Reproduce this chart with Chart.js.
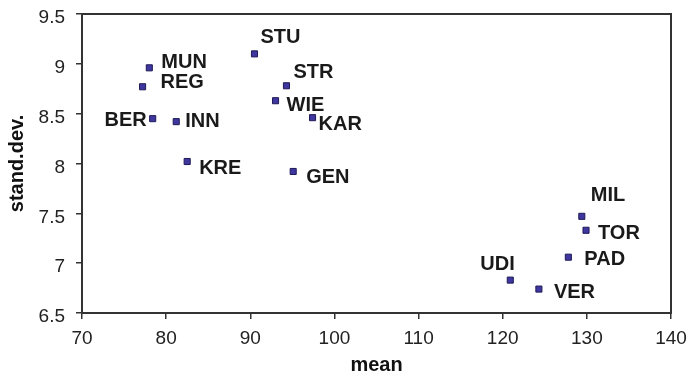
<!DOCTYPE html>
<html>
<head>
<meta charset="utf-8">
<script src="https://cdn.jsdelivr.net/npm/chart.js@4/dist/chart.umd.min.js"></script>
<style>
  body { margin: 0; background: #fff; }
  #wrap { width: 688px; height: 378px; }
</style>
</head>
<body>
<div id="wrap"><canvas id="scatter-chart" width="688" height="378"></canvas></div>
<script>
// city codes and their (mean, stand.dev.) values
const cities = ["MUN", "REG", "BER", "INN", "KRE", "STU", "STR", "WIE", "KAR", "GEN", "MIL", "TOR", "PAD", "UDI", "VER"];
const meanValues = [78.0, 77.2, 78.4, 81.2, 82.5, 90.5, 94.3, 93.0, 97.4, 95.1, 129.4, 129.9, 127.8, 120.9, 124.3];
const sdValues = [8.96, 8.77, 8.45, 8.42, 8.02, 9.10, 8.78, 8.63, 8.46, 7.92, 7.47, 7.33, 7.06, 6.83, 6.74];

const xTicks = [70, 80, 90, 100, 110, 120, 130, 140];
const yTicks = [6.5, 7, 7.5, 8, 8.5, 9, 9.5];

// label placement next to each point (pixels, left edge / cap middle)
const labelOffsets = [
  [12, -7], [18, -6], [-6, 0, "right"], [9, -2], [12, 5], [6, -18], [7, -15], [11, 3],
  [6, 5], [13, 5], [9, -22], [12, 2], [16, 1], [-30, -17], [15, 2],
];

const FONT = "Arial, 'Liberation Sans', sans-serif";

const points = meanValues.map((m, i) => ({ x: m, y: sdValues[i] }));

// draws the box around the plot and the city names
const boxAndLabels = {
  id: "boxAndLabels",
  afterDraw(chart) {
    const { ctx, chartArea } = chart;
    ctx.save();
    ctx.strokeStyle = "#333";
    ctx.lineWidth = 2;
    ctx.strokeRect(chartArea.left, chartArea.top, chartArea.right - chartArea.left, chartArea.bottom - chartArea.top);

    ctx.font = "bold 20px " + FONT;
    ctx.fillStyle = "#1a1a1a";
    ctx.textBaseline = "alphabetic";
    const meta = chart.getDatasetMeta(0);
    meta.data.forEach((pt, i) => {
      const off = labelOffsets[i];
      ctx.textAlign = off[2] || "left";
      ctx.fillText(cities[i], pt.x + off[0], pt.y + off[1] + 7);
    });
    ctx.restore();
  },
};

const ctx = document.getElementById("scatter-chart");

new Chart(ctx, {
  type: "scatter",
  data: {
    datasets: [
      {
        label: "cities",
        data: points,
        pointStyle: "rect",
        radius: 4.3,
        hoverRadius: 4.3,
        backgroundColor: "#3f36a0",
        borderColor: "#1e1a55",
        borderWidth: 1,
      },
    ],
  },
  options: {
    responsive: false,
    animation: false,
    layout: { padding: { top: 14, right: 17, left: 0, bottom: 0 } },
    plugins: {
      legend: { display: false },
      tooltip: { enabled: false },
    },
    scales: {
      x: {
        type: "linear",
        min: 70,
        max: 140,
        afterBuildTicks: (scale) => {
          scale.ticks = xTicks.map((v) => ({ value: v }));
        },
        afterFit: (scale) => {
          scale.height = 65;
          scale.paddingLeft = 0;
          scale.paddingRight = 0;
        },
        ticks: {
          padding: 8,
          color: "#222",
          font: { family: FONT, size: 19 },
          callback: (v) => String(v),
        },
        grid: { display: true, drawOnChartArea: false, tickLength: 6, color: "#333", lineWidth: 1.5 },
        border: { display: false },
        title: {
          display: true,
          text: "mean",
          color: "#111",
          font: { family: FONT, size: 20, weight: "bold" },
          padding: { top: 0, bottom: 1 },
        },
      },
      y: {
        type: "linear",
        min: 6.5,
        max: 9.5,
        afterBuildTicks: (scale) => {
          scale.ticks = yTicks.map((v) => ({ value: v }));
        },
        afterFit: (scale) => {
          scale.width = 82;
          scale.paddingTop = 0;
          scale.paddingBottom = 0;
        },
        ticks: {
          padding: 11,
          labelOffset: 4,
          color: "#222",
          font: { family: FONT, size: 19 },
          callback: (v) => String(v),
        },
        grid: { display: true, drawOnChartArea: false, tickLength: 6, color: "#333", lineWidth: 1.5 },
        border: { display: false },
        title: {
          display: true,
          text: "stand.dev.",
          color: "#111",
          font: { family: FONT, size: 20, weight: "bold" },
          padding: { top: 5, bottom: 0 },
        },
      },
    },
  },
  plugins: [boxAndLabels],
});
</script>
</body>
</html>
